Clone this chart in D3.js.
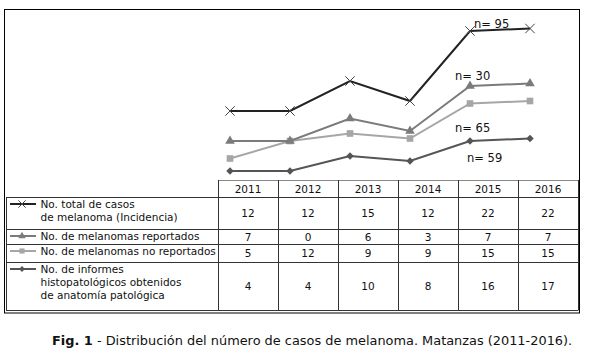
<!DOCTYPE html>
<html>
<head>
<meta charset="utf-8">
<script src="https://cdn.jsdelivr.net/npm/d3@7"></script>
<style>
  body { margin: 0; background: #fff; }
  text { font-family: "DejaVu Sans", Verdana, sans-serif; }
</style>
</head>
<body>
<script>
// data (table values; the chart stacks them)
let years = ["2011", "2012", "2013", "2014", "2015", "2016"];
let total = [12, 12, 15, 12, 22, 22];
let reportados = [7, 0, 6, 3, 7, 7];
let noReportados = [5, 12, 9, 9, 15, 15];
let informes = [4, 4, 10, 8, 16, 17];
let rowLabels = [
  ["No. total de casos", "de melanoma (Incidencia)"],
  ["No. de melanomas reportados"],
  ["No. de melanomas no reportados"],
  ["No. de informes", "histopatológicos obtenidos", "de anatomía patológica"]
];

let W = 592, H = 354;
let svg = d3.select("body").append("svg")
  .attr("width", W)
  .attr("height", H);

// series, bottom of the stack first
let series = [
  { key: "informes", values: informes, color: "#555", marker: d3.symbolDiamond2, size: 36, fill: true },
  { key: "noReportados", values: noReportados, color: "#a6a6a6", marker: d3.symbolSquare, size: 44, fill: true },
  { key: "reportados", values: reportados, color: "#7b7b7b", marker: d3.symbolTriangle, size: 40, fill: true },
  { key: "total", values: total, color: "#222", marker: d3.symbolTimes, size: 60, fill: false }
];
let table = years.map(function (y, i) {
  let r = { year: y };
  series.forEach(function (s) { r[s.key] = s.values[i]; });
  return r;
});
let stacked = d3.stack().keys(series.map(s => s.key))(table);

// outer frame
svg.append("rect")
  .attr("x", 4.5).attr("y", 9.5)
  .attr("width", 575).attr("height", 303.5)
  .attr("fill", "none").attr("stroke", "#000");

let x = d3.scalePoint().domain(years).range([230, 530]);
let y = d3.scaleLinear().domain([0, 70]).range([181, 6]);

let line = d3.line()
  .x(function (d) { return x(d.data.year); })
  .y(function (d) { return y(d[1]); });

let plot = svg.append("g");
stacked.forEach(function (layer, i) {
  let s = series[i];
  plot.append("path")
    .datum(layer)
    .attr("d", line)
    .attr("fill", "none")
    .attr("stroke", s.color)
    .attr("stroke-width", 2);
  plot.selectAll(".m" + i)
    .data(layer)
    .enter().append("path")
    .attr("class", "m" + i)
    .attr("transform", d => "translate(" + x(d.data.year) + "," + y(d[1]) + ")")
    .attr("d", d3.symbol().type(s.marker).size(s.size))
    .attr("fill", s.fill ? s.color : "none")
    .attr("stroke", s.fill ? "none" : "#444")
    .attr("stroke-width", 1);
});

// n= labels (sum of each table row)
let nLabels = [
  { v: d3.sum(total), dx: 4, y: 28 },
  { v: d3.sum(reportados), dx: -15, y: 80 },
  { v: d3.sum(noReportados), dx: -15, y: 131.5 },
  { v: d3.sum(informes), dx: -3, y: 162 }
];
svg.selectAll(".nlab")
  .data(nLabels)
  .enter().append("text")
  .attr("class", "nlab")
  .attr("x", d => x("2015") + d.dx)
  .attr("y", d => d.y)
  .attr("font-size", 11.5)
  .attr("fill", "#111")
  .text(d => "n= " + d.v);

// data table
let col = d3.scaleBand().domain(years).range([218, 578]);
let rowEdges = [197, 229, 244, 262, 310];
let lineColor = "#333";
let g = svg.append("g").attr("stroke", lineColor).attr("stroke-width", 1);

// header row
g.append("line").attr("x1", 218).attr("x2", 578).attr("y1", 180.5).attr("y2", 180.5).attr("stroke", "#888");
rowEdges.forEach(function (r) {
  g.append("line").attr("x1", 6).attr("x2", 578).attr("y1", r + 0.5).attr("y2", r + 0.5);
});
g.append("line").attr("x1", 6.5).attr("x2", 6.5).attr("y1", 197).attr("y2", 310.5);
years.concat(["end"]).forEach(function (yr, i) {
  let xx = i < years.length ? col(yr) : col.range()[1];
  g.append("line").attr("x1", xx + 0.5).attr("x2", xx + 0.5).attr("y1", 180).attr("y2", 310.5);
});

svg.selectAll(".yr")
  .data(years)
  .enter().append("text")
  .attr("x", d => col(d) + col.bandwidth() / 2)
  .attr("y", 193)
  .attr("text-anchor", "middle")
  .attr("font-size", 10.5)
  .attr("fill", "#111")
  .text(d => d);

// rows: top series first
let rowSeries = [series[3], series[2], series[1], series[0]];
rowSeries.forEach(function (s, i) {
  let top = rowEdges[i], bot = rowEdges[i + 1];
  let mid = (top + bot) / 2;
  s.values.forEach(function (v, j) {
    svg.append("text")
      .attr("x", col(years[j]) + col.bandwidth() / 2)
      .attr("y", mid + 4)
      .attr("text-anchor", "middle")
      .attr("font-size", 10.5)
      .attr("fill", "#111")
      .text(v);
  });
  let labs = rowLabels[i];
  let ly = top + 11;
  let t = svg.append("text").attr("font-size", 10.5).attr("fill", "#111");
  labs.forEach(function (l, k) {
    t.append("tspan").attr("x", 40.5).attr("y", ly + k * 13).text(l);
  });
  // legend key
  let ky = ly - 4;
  svg.append("line")
    .attr("x1", 10).attr("x2", 36).attr("y1", ky).attr("y2", ky)
    .attr("stroke", s.color).attr("stroke-width", 2);
  svg.append("path")
    .attr("transform", "translate(22," + ky + ")")
    .attr("d", d3.symbol().type(s.marker).size(s.size * 0.6))
    .attr("fill", s.fill ? s.color : "none")
    .attr("stroke", s.fill ? "none" : "#444");
});

// caption
let cap = svg.append("text")
  .attr("x", 52)
  .attr("y", 345)
  .attr("font-size", 12.9)
  .attr("fill", "#111");
cap.append("tspan").attr("font-weight", "bold").text("Fig. 1");
cap.append("tspan").text(" - Distribución del número de casos de melanoma. Matanzas (2011-2016).");
</script>
</body>
</html>
